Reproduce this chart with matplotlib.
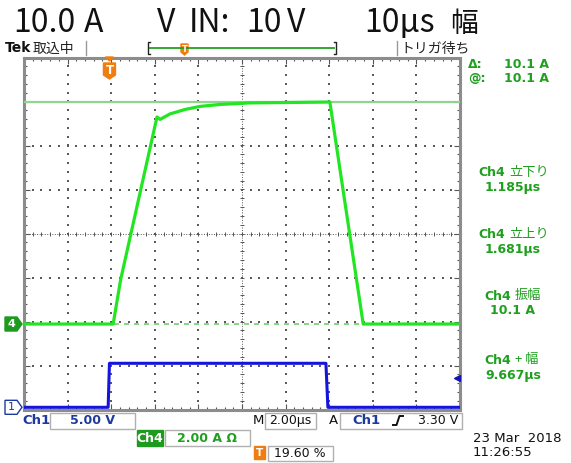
import matplotlib
matplotlib.use('Agg')
import matplotlib.pyplot as plt
from matplotlib.patches import Rectangle, Polygon
import numpy as np

plt.rcParams['font.family'] = ['DejaVu Sans', 'Noto Sans CJK JP']

# scope settings
t_div = 2.0       # us/div
ch4_div = 2.0     # A/div
ch1_div = 5.0     # V/div
trig_pct = 19.60
trig_level = 3.30

# Ch4 current (A) vs time from trigger (us)
ch4_t = [-3.92, 0.17, 0.51, 2.18, 2.32, 2.78, 3.46, 4.15, 5.07, 6.44, 8.28, 10.11, 11.64, 16.08]
ch4_i = [0.0, 0.0, 2.0, 9.41, 9.30, 9.55, 9.75, 9.89, 9.98, 10.05, 10.07, 10.09, 0.0, 0.0]

# Ch1 gate voltage (V)
ch1_t = [-3.92, -0.06, 0.0, 9.93, 10.02, 16.08]
ch1_v = [0.0, 0.0, 5.0, 5.0, 0.0, 0.0]

cursor_a = [0.0, 10.1]

meas_names = ["立下り", "立上り", "振幅", "+ 幅"]
meas_vals = ["1.185µs", "1.681µs", "10.1 A", "9.667µs"]

GREEN = '#1ea01e'
BLUE = '#1f3a9e'
ORANGE = '#f07d10'

W, H = 571, 463
fig = plt.figure(figsize=(W / 100, H / 100), dpi=100)

# graticule box in pixels
L, R, T, B = 24, 460, 57.5, 409.5
pos = [L / W, 1 - B / H, (R - L) / W, (B - T) / H]

ax = fig.add_axes(pos)
ax.set_xlim(0, 10)
ax.set_ylim(0, 8)
for s in ax.spines.values():
    s.set_color('#8c8c8c')
    s.set_linewidth(2.2)
ax.set_xticks(np.arange(0, 11, 1))
ax.set_yticks(np.arange(0, 9, 1))
ax.set_xticks(np.arange(0, 10.01, 0.2), minor=True)
ax.set_yticks(np.arange(0, 8.01, 0.2), minor=True)
ax.tick_params(which='both', direction='in', top=True, right=True,
               labelbottom=False, labelleft=False, color='#555555', width=0.8)
ax.tick_params(which='major', length=4)
ax.tick_params(which='minor', length=2.5)

# dotted grid
fine_x = np.arange(0.2, 10, 0.2)
fine_y = np.arange(0.2, 8, 0.2)
for gx in range(1, 10):
    if gx == 5:
        continue
    ax.scatter([gx] * len(fine_y), fine_y, s=0.8, marker='s', color='#5a5a5a', lw=0)
for gy in range(1, 8):
    if gy == 4:
        continue
    ax.scatter(fine_x, [gy] * len(fine_x), s=0.8, marker='s', color='#5a5a5a', lw=0)
# center cross
ax.axhline(4, color='#555555', lw=0.7, ls=(0, (1, 1.6)))
ax.axvline(5, color='#555555', lw=0.7, ls=(0, (1, 1.6)))
ax.plot(fine_x, [4] * len(fine_x), ls='none', marker='|', ms=3.5, mew=0.7, color='#555555')
ax.plot([5] * len(fine_y), fine_y, ls='none', marker='_', ms=3.5, mew=0.7, color='#555555')

t0 = -trig_pct / 100 * 10 * t_div
t1 = t0 + 10 * t_div

# channel vertical positions (div from centre)
ch4_pos = -2.057
ch1_pos = -3.95

ax4 = fig.add_axes(pos)
ax4.set_xlim(t0, t1)
ax4.set_ylim((-4 - ch4_pos) * ch4_div, (4 - ch4_pos) * ch4_div)
ax4.axis('off')
ax4.axhline(cursor_a[0], color='#6fcf6f', lw=1.2, ls=(0, (3, 3)))
ax4.axhline(cursor_a[1], color='#8fd48f', lw=1.6)
ax4.plot(ch4_t, ch4_i, color='#22e622', lw=2.3, solid_joinstyle='round')

ax1 = fig.add_axes(pos)
ax1.set_xlim(t0, t1)
ax1.set_ylim((-4 - ch1_pos) * ch1_div, (4 - ch1_pos) * ch1_div)
ax1.axis('off')
ax1.plot(ch1_t, ch1_v, color='#1414dc', lw=2.2)
ax1.plot([t1 - 0.12], [trig_level], marker='<', ms=5, color='#1414b4', clip_on=False)

# overlay in pixel coordinates
d = fig.add_axes([0, 0, 1, 1])
d.set_xlim(0, W)
d.set_ylim(H, 0)
d.axis('off')

# title
tf = ['Liberation Sans Narrow', 'Noto Sans CJK JP']
for x, s in [(13, "10.0"), (84, "A"), (157, "V"), (189, "IN:"), (246, "10"),
             (287, "V"), (364, "10µs")]:
    d.text(x, 32, s, fontsize=23, family=tf, va='baseline', ha='left', color='#111111')
d.text(450, 32, "幅", fontsize=20, family=['Noto Sans CJK JP'], va='baseline', ha='left', color='#111111')

# status line
d.text(5, 52.5, "Tek", fontsize=10, weight='bold', va='baseline', color='#111111')
d.text(33, 52.5, "取込中", fontsize=10, family=['Noto Sans CJK JP'], va='baseline', color='#222222')
d.text(400, 52.5, "トリガ待ち", fontsize=10, family=['Noto Sans CJK JP'], va='baseline', color='#222222')
d.plot([86, 86], [41, 55], color='#999999', lw=1)
d.plot([397, 397], [41, 55], color='#999999', lw=1)
d.plot([150, 334], [48, 48], color='#22a022', lw=1.3)
d.plot([150, 148, 148, 150], [42, 42, 54, 54], color='#222222', lw=1)
d.plot([334, 336, 336, 334], [42, 42, 54, 54], color='#222222', lw=1)
d.add_patch(Polygon([[181, 44], [188, 44], [188, 52], [184.5, 55], [181, 52]], color=ORANGE))
d.text(184.5, 49, "T", fontsize=6, color='white', weight='bold', ha='center', va='center')

# trigger position marker on graticule
tx = L + (0 - t0) / (t1 - t0) * (R - L)
d.add_patch(Polygon([[tx - 4, 57], [tx + 4, 57], [tx, 61]], color=ORANGE))
d.add_patch(Polygon([[tx - 6, 63], [tx + 6, 63], [tx + 6, 75], [tx, 79], [tx - 6, 75]], color=ORANGE))
d.text(tx, 70.5, "T", fontsize=8.5, color='white', weight='bold', ha='center', va='center')

# channel ground markers
y4 = 233.5 - ch4_pos * 44
d.add_patch(Polygon([[5, y4 - 7], [17, y4 - 7], [22, y4], [17, y4 + 7], [5, y4 + 7]], color='#1e9a1e'))
d.text(11, y4, "4", fontsize=8, color='white', weight='bold', ha='center', va='center')
y1 = 233.5 - ch1_pos * 44
d.add_patch(Polygon([[5, y1 - 7], [17, y1 - 7], [22, y1], [17, y1 + 7], [5, y1 + 7]],
                    facecolor='white', edgecolor=BLUE, lw=1))
d.text(11, y1, "1", fontsize=8, color=BLUE, ha='center', va='center')

# cursor readouts
d.text(468, 65, "Δ:", fontsize=9, color=GREEN, weight='bold', va='center')
d.text(549, 65, "10.1 A", fontsize=9, color=GREEN, weight='bold', va='center', ha='right')
d.text(468, 78, "@:", fontsize=9, color=GREEN, weight='bold', va='center')
d.text(549, 78, "10.1 A", fontsize=9, color=GREEN, weight='bold', va='center', ha='right')

# measurements
meas_y = [172.5, 234, 296, 360]
meas_split = [505, 505, 511, 511]
for k, (nm, vl) in enumerate(zip(meas_names, meas_vals)):
    yy = meas_y[k]
    d.text(meas_split[k], yy, "Ch4", fontsize=9, color=GREEN, weight='bold', ha='right', va='center')
    d.text(meas_split[k] + 4, yy, nm, fontsize=9.5, color=GREEN, ha='left', va='center',
           family=['Noto Sans CJK JP', 'DejaVu Sans'])
    d.text(513, yy + 15, vl, fontsize=9, color=GREEN, weight='bold', ha='center', va='center')

# bottom readouts
def box(x0, y0, x1, y1, fc='white', ec='#b0b0b0'):
    d.add_patch(Rectangle((x0, y0), x1 - x0, y1 - y0, facecolor=fc, edgecolor=ec, lw=1))

d.text(22, 420, "Ch1", fontsize=9.5, color=BLUE, weight='bold', va='center')
box(50, 412.5, 135, 428.5)
d.text(92, 420.5, "5.00 V", fontsize=9, color=BLUE, weight='bold', ha='center', va='center')
d.text(258, 420.5, "M", fontsize=9.5, color='#111111', ha='center', va='center')
box(265, 412.5, 316, 428.5)
d.text(290.5, 420.5, "2.00µs", fontsize=9, color='#111111', ha='center', va='center')
d.text(333, 420.5, "A", fontsize=9.5, color='#111111', ha='center', va='center')
box(340, 412.5, 462, 428.5)
d.text(352, 420.5, "Ch1", fontsize=9.5, color=BLUE, weight='bold', va='center')
d.plot([393, 396.5, 399.5, 403], [425, 425, 416, 416], color='#111111', lw=1.4)
d.text(458, 420.5, "3.30 V", fontsize=9, color='#111111', ha='right', va='center')

box(137, 430, 163, 446, fc='#1e9a1e', ec='#1e9a1e')
d.text(150, 438, "Ch4", fontsize=9, color='white', weight='bold', ha='center', va='center')
box(165, 430, 250, 446)
d.text(207, 438, "2.00 A Ω", fontsize=9, color=GREEN, weight='bold', ha='center', va='center')

box(254, 446, 265, 459, fc=ORANGE, ec=ORANGE)
d.text(259.5, 452.5, "T", fontsize=7.5, color='white', weight='bold', ha='center', va='center')
box(268, 446, 333, 461)
d.text(300, 453.5, "19.60 %", fontsize=9, color='#111111', ha='center', va='center')

d.text(473, 439, "23 Mar  2018", fontsize=9.5, color='#111111', va='center')
d.text(473, 452, "11:26:55", fontsize=9.5, color='#111111', va='center')

fig.savefig('out.png', dpi=100)
